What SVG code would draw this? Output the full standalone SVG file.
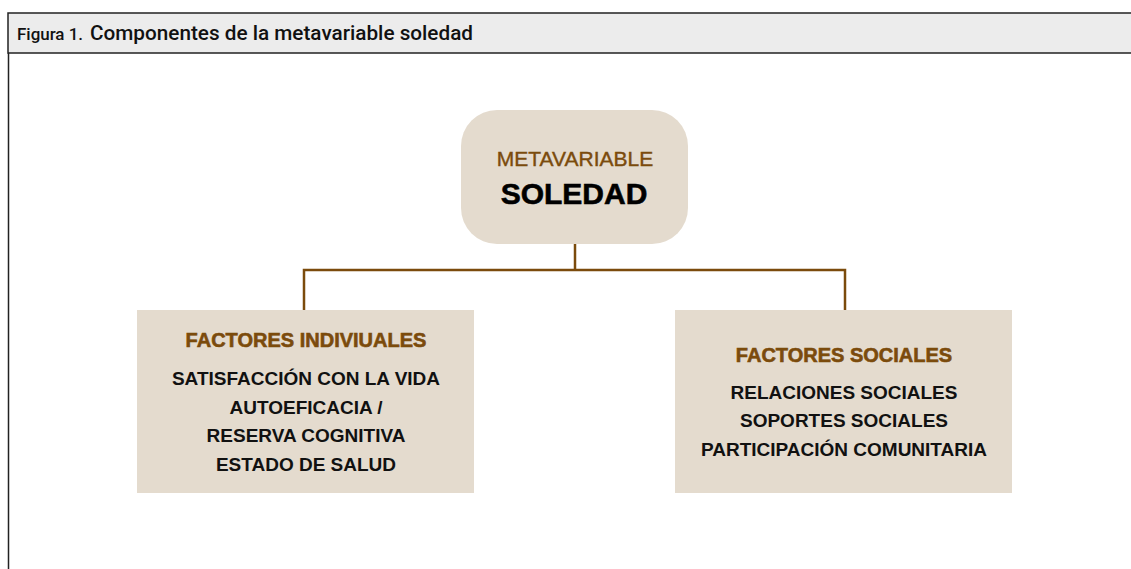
<svg xmlns="http://www.w3.org/2000/svg" width="1131" height="569" viewBox="0 0 1131 569">
<style>
.box{fill:#e4dbce}
.conn{fill:none;stroke:#7b4b0c;stroke-width:2.5}
.hd{font-family:"Liberation Sans",Arial,sans-serif;font-weight:bold;fill:#7b4b0c;stroke:#7b4b0c;stroke-width:0.6;text-anchor:middle;font-size:20px}
.bd{font-family:"Liberation Sans",Arial,sans-serif;font-weight:bold;fill:#111;text-anchor:middle;font-size:19px}
</style>
<rect x="0" y="0" width="1131" height="569" fill="#fff"/>
<g id="frame">
<rect x="8" y="13" width="1130" height="40" fill="#ececec" stroke="#222" stroke-width="1.5"/>
<line x1="8.5" y1="53" x2="8.5" y2="569" stroke="#222" stroke-width="1.5"/>
<text x="17" y="40" font-family="Roboto,sans-serif" font-weight="500" fill="#111" font-size="16" textLength="66" lengthAdjust="spacingAndGlyphs">Figura 1.</text>
<text x="90" y="40" font-family="Roboto,sans-serif" font-weight="500" fill="#111" font-size="20" textLength="383" lengthAdjust="spacingAndGlyphs">Componentes de la metavariable soledad</text>
</g>
<g id="connectors">
<path class="conn" d="M575 244 V270 M304 310 V270 H845 V310"/>
</g>
<g id="metavariable">
<rect class="box" x="461" y="110" width="227" height="134" rx="36"/>
<text x="575" y="166" font-family="Liberation Sans,Arial,sans-serif" font-size="21" fill="#7b4b0c" stroke="#7b4b0c" stroke-width="0.4" text-anchor="middle">METAVARIABLE</text>
<text x="574" y="204" font-family="Liberation Sans,Arial,sans-serif" font-weight="900" font-size="30" fill="#000" stroke="#000" stroke-width="0.6" text-anchor="middle">SOLEDAD</text>
</g>
<g id="factores-individuales">
<rect class="box" x="137" y="310" width="337" height="183"/>
<text class="hd" x="306" y="347">FACTORES INDIVIUALES</text>
<text class="bd" x="306" y="385">SATISFACCIÓN CON LA VIDA</text>
<text class="bd" x="306" y="414">AUTOEFICACIA /</text>
<text class="bd" x="306" y="442">RESERVA COGNITIVA</text>
<text class="bd" x="306" y="471">ESTADO DE SALUD</text>
</g>
<g id="factores-sociales">
<rect class="box" x="675" y="310" width="337" height="183"/>
<text class="hd" x="844" y="362">FACTORES SOCIALES</text>
<text class="bd" x="844" y="399">RELACIONES SOCIALES</text>
<text class="bd" x="844" y="427">SOPORTES SOCIALES</text>
<text class="bd" x="844" y="456">PARTICIPACIÓN COMUNITARIA</text>
</g>
</svg>
